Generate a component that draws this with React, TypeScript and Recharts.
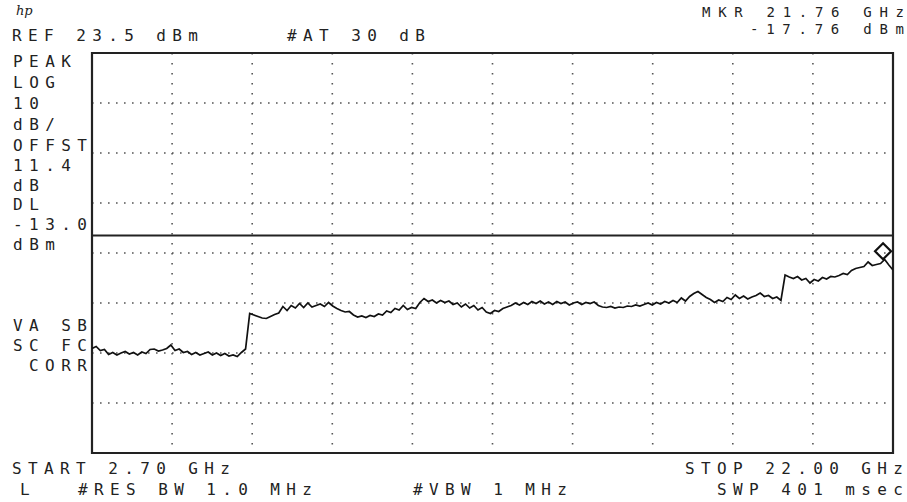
import {
  CartesianGrid,
  Line,
  LineChart,
  ReferenceArea,
  ReferenceDot,
  ReferenceLine,
  XAxis,
  YAxis,
} from "recharts";

// Sweep frequencies (GHz), every 0.1 GHz.
const FREQ_GHZ = [
  2.7, 2.8, 2.9, 3.0, 3.1, 3.2, 3.3, 3.4, 3.5, 3.6,
  3.7, 3.8, 3.9, 4.0, 4.1, 4.2, 4.3, 4.4, 4.5, 4.6,
  4.7, 4.8, 4.9, 5.0, 5.1, 5.2, 5.3, 5.4, 5.5, 5.6,
  5.7, 5.8, 5.9, 6.0, 6.1, 6.2, 6.3, 6.4, 6.5, 6.6,
  6.7, 6.8, 6.9, 7.0, 7.1, 7.2, 7.3, 7.4, 7.5, 7.6,
  7.7, 7.8, 7.9, 8.0, 8.1, 8.2, 8.3, 8.4, 8.5, 8.6,
  8.7, 8.8, 8.9, 9.0, 9.1, 9.2, 9.3, 9.4, 9.5, 9.6,
  9.7, 9.8, 9.9, 10.0, 10.1, 10.2, 10.3, 10.4, 10.5, 10.6,
  10.7, 10.8, 10.9, 11.0, 11.1, 11.2, 11.3, 11.4, 11.5, 11.6,
  11.7, 11.8, 11.9, 12.0, 12.1, 12.2, 12.3, 12.4, 12.5, 12.6,
  12.7, 12.8, 12.9, 13.0, 13.1, 13.2, 13.3, 13.4, 13.5, 13.6,
  13.7, 13.8, 13.9, 14.0, 14.1, 14.2, 14.3, 14.4, 14.5, 14.6,
  14.7, 14.8, 14.9, 15.0, 15.1, 15.2, 15.3, 15.4, 15.5, 15.6,
  15.7, 15.8, 15.9, 16.0, 16.1, 16.2, 16.3, 16.4, 16.5, 16.6,
  16.7, 16.8, 16.9, 17.0, 17.1, 17.2, 17.3, 17.4, 17.5, 17.6,
  17.7, 17.8, 17.9, 18.0, 18.1, 18.2, 18.3, 18.4, 18.5, 18.6,
  18.7, 18.8, 18.9, 19.0, 19.1, 19.2, 19.3, 19.4, 19.5, 19.6,
  19.7, 19.8, 19.9, 20.0, 20.1, 20.2, 20.3, 20.4, 20.5, 20.6,
  20.7, 20.8, 20.9, 21.0, 21.1, 21.2, 21.3, 21.4, 21.5, 21.6,
  21.7, 21.8, 21.9, 22.0,
];

// Trace level (dBm) at each frequency above.
const LEVEL_DBM = [
  -35.6, -35.2, -36.0, -35.8, -36.8, -36.4, -36.9, -36.5, -36.2, -36.7,
  -36.4, -36.9, -36.3, -36.6, -35.8, -35.7, -36.1, -35.9, -35.6, -34.9,
  -36.0, -35.7, -36.4, -36.2, -36.8, -36.4, -36.9, -36.6, -36.3, -36.9,
  -36.5, -37.0, -36.6, -37.1, -36.9, -37.2, -36.4, -35.7, -28.6, -28.9,
  -29.2, -29.5, -29.6, -29.2, -28.8, -28.5, -27.2, -28.0, -27.0, -27.5,
  -26.6, -27.4, -26.5, -27.3, -27.0, -26.7, -27.2, -26.4, -27.1, -27.6,
  -28.0, -28.3, -28.2, -28.9, -29.3, -29.1, -29.4, -29.0, -29.2, -28.7,
  -28.9, -28.1, -28.4, -27.6, -27.9, -27.0, -27.8, -27.4, -27.6, -26.4,
  -25.6, -26.2, -25.9, -26.5, -26.0, -26.4, -26.1, -26.8, -26.5, -27.3,
  -26.7, -27.5, -27.0, -27.9, -27.4, -28.3, -28.6, -28.0, -28.2, -27.6,
  -27.3, -27.0, -26.5, -26.9, -26.4, -26.8, -26.2, -26.6, -26.1, -26.7,
  -26.3, -26.8, -26.2, -26.6, -26.3, -26.9, -26.5, -26.3, -26.8, -26.4,
  -26.6, -26.3, -27.0, -27.3, -27.4, -27.2, -27.5, -27.3, -27.4, -27.1,
  -27.2, -26.9, -27.1, -26.8, -26.5, -26.9, -26.4, -26.7, -26.2, -26.5,
  -26.0, -26.4, -25.5, -26.1, -25.2, -24.6, -24.2, -24.8, -25.4, -25.8,
  -26.4, -25.9, -26.2, -25.4, -25.8, -24.9, -25.6, -25.1, -25.7, -25.3,
  -25.0, -24.5, -25.2, -25.0, -25.6, -25.3, -26.0, -20.9, -21.3, -21.6,
  -21.2, -21.9, -21.6, -22.5, -21.8, -22.1, -21.4, -21.7, -21.2, -21.3,
  -21.0, -20.6, -20.8, -20.0, -19.6, -19.4, -19.2, -18.3, -19.0, -18.8,
  -18.6, -17.8, -18.9, -19.9,
];

// Graticule: 10 horizontal divisions, 8 vertical divisions of 10 dB.
const X_TICKS = [2.7, 4.63, 6.56, 8.49, 10.42, 12.35, 14.28, 16.21, 18.14, 20.07, 22.0];
const Y_TICKS = [23.5, 13.5, 3.5, -6.5, -16.5, -26.5, -36.5, -46.5, -56.5];

const DISPLAY_LINE_DBM = -13.0;
const MARKER_GHZ = 21.76;
const MARKER_DBM = -17.76;

// Annotation text from the analyzer screen.
const SIDE_LABELS = ["PEAK", "LOG", "10", "dB/", "OFFST", "11.4", "dB", "DL", "-13.0", "dBm"];
const SIDE_BASELINES = [67, 88, 109, 130, 151, 171, 191, 210, 230, 250];

const data = FREQ_GHZ.map((f, i) => ({ f, dbm: LEVEL_DBM[i] }));

const PITCH = 16;
const INK = "#222";

function Txt({
  x,
  y,
  s,
  end,
  size,
}: {
  x: number;
  y: number;
  s: string;
  end?: boolean;
  size?: number;
}) {
  return (
    <text
      x={x}
      y={y}
      fontSize={size}
      textLength={(s.length - 1) * PITCH + 10}
      lengthAdjust="spacing"
      textAnchor={end ? "end" : "start"}
      style={{ whiteSpace: "pre" }}
    >
      {s}
    </text>
  );
}

function Diamond(props: { cx?: number; cy?: number }) {
  const { cx = 0, cy = 0 } = props;
  // bottom vertex sits on the marker point
  const pts = `${cx},${cy - 16} ${cx + 8},${cy - 8} ${cx},${cy} ${cx - 8},${cy - 8}`;
  return <polygon points={pts} fill="none" stroke="#111" strokeWidth={2.2} />;
}

export default function App() {
  return (
    <div
      style={{
        position: "absolute",
        left: 0,
        top: 0,
        width: 907,
        height: 502,
        background: "#fff",
      }}
    >
      <LineChart
        width={907}
        height={502}
        data={data}
        margin={{ top: 53, right: 14, bottom: 49, left: 92 }}
      >
        <XAxis
          type="number"
          dataKey="f"
          domain={[2.7, 22.0]}
          ticks={X_TICKS}
          allowDataOverflow
          hide
        />
        <YAxis
          type="number"
          domain={[-56.5, 23.5]}
          ticks={Y_TICKS}
          allowDataOverflow
          hide
        />
        <CartesianGrid
          vertical={false}
          stroke="#555"
          strokeWidth={1.6}
          strokeDasharray="1.6 6.4"
        />
        <CartesianGrid
          horizontal={false}
          stroke="#555"
          strokeWidth={1.6}
          strokeDasharray="1.6 8.4"
        />
        <ReferenceLine y={DISPLAY_LINE_DBM} stroke={INK} strokeWidth={2} />
        <Line
          type="linear"
          dataKey="dbm"
          stroke="#111"
          strokeWidth={1.7}
          dot={false}
          isAnimationActive={false}
        />
        <ReferenceDot
          x={MARKER_GHZ}
          y={MARKER_DBM}
          shape={<Diamond />}
          ifOverflow="visible"
        />
        <ReferenceArea
          x1={2.7}
          x2={22.0}
          y1={-56.5}
          y2={23.5}
          fill="none"
          fillOpacity={0}
          stroke={INK}
          strokeWidth={2.2}
          ifOverflow="visible"
        />
      </LineChart>
      <svg
        width={907}
        height={502}
        style={{ position: "absolute", left: 0, top: 0, pointerEvents: "none" }}
        fontFamily="'DejaVu Sans Mono', monospace"
        fontSize={16}
        fill={INK}
      >
        <text x={16} y={15} fontSize={13} fontStyle="italic" fontFamily="'DejaVu Serif', serif">
          hp
        </text>
        <Txt x={12} y={41} s="REF 23.5 dBm" />
        <Txt x={287} y={41} s="#AT 30 dB" />
        <Txt x={904} y={17} s="MKR 21.76 GHz" end size={14} />
        <Txt x={904} y={34} s="-17.76 dBm" end size={14} />
        {SIDE_LABELS.map((s, i) => (
          <Txt key={s + i} x={13} y={SIDE_BASELINES[i]} s={s} />
        ))}
        <Txt x={13} y={331} s="VA SB" />
        <Txt x={13} y={351} s="SC FC" />
        <Txt x={29} y={371} s="CORR" />
        <Txt x={12} y={474} s="START 2.70 GHz" />
        <Txt x={903} y={474} s="STOP 22.00 GHz" end />
        <Txt x={20} y={495} s="L" />
        <Txt x={78} y={495} s="#RES BW 1.0 MHz" />
        <Txt x={413} y={495} s="#VBW 1 MHz" />
        <Txt x={903} y={495} s="SWP 401 msec" end />
      </svg>
    </div>
  );
}
